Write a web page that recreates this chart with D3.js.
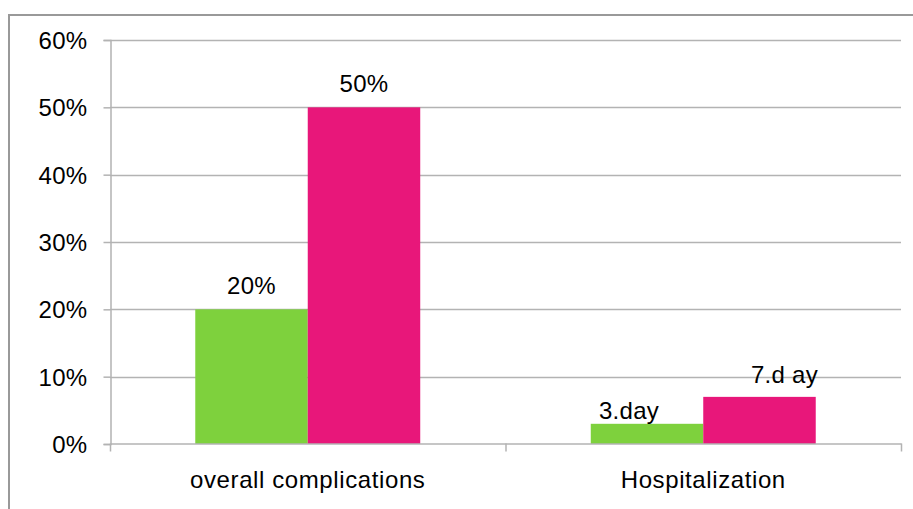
<!DOCTYPE html>
<html>
<head>
<meta charset="utf-8">
<script src="https://cdn.jsdelivr.net/npm/d3@7"></script>
<style>
  html, body { margin: 0; padding: 0; background: #fff; }
  svg { display: block; }
  text { font-family: "Liberation Sans", Arial, sans-serif; fill: #000; }
</style>
</head>
<body>
<svg id="chart" width="913" height="509"></svg>
<script>
// Chart data
const categories = ["overall complications", "Hospitalization"];
const seriesNames = ["before", "after"];
const seriesA = [20, 3];   // green bars (%)
const seriesB = [50, 7];   // pink bars (%)
const labelsA = ["20%", "3.day"];
const labelsB = ["50%", "7.d ay"];
const yTicks = [0, 10, 20, 30, 40, 50, 60];
const colors = ["#7ED13D", "#E8177A"];

const svg = d3.select("#chart");
const W = 913, H = 509;
const FONT = "Liberation Sans, Arial, sans-serif";

// Outer frame (top and left edges visible)
svg.append("line").attr("x1", 8).attr("x2", W).attr("y1", 15).attr("y2", 15)
  .attr("stroke", "#999").attr("stroke-width", 2);
svg.append("line").attr("x1", 9).attr("x2", 9).attr("y1", 15).attr("y2", H)
  .attr("stroke", "#999").attr("stroke-width", 2);

const x0 = d3.scaleBand().domain(categories).range([110, 901]).paddingInner(0).paddingOuter(0);
const x1 = d3.scaleBand().domain(seriesNames).range([0, x0.bandwidth()]).paddingInner(0).paddingOuter(0.758);
const y = d3.scaleLinear().domain([0, 60]).range([444, 40]);

// Horizontal gridlines
svg.append("g").selectAll("line").data(yTicks.filter(d => d > 0)).join("line")
  .attr("x1", 110).attr("x2", 901)
  .attr("y1", d => Math.round(y(d)) + 0.5).attr("y2", d => Math.round(y(d)) + 0.5)
  .attr("stroke", "#b3b3b3").attr("stroke-width", 1.5);

// Y axis
const yAxis = svg.append("g").attr("transform", "translate(110.5,0)")
  .call(d3.axisLeft(y).tickValues(yTicks).tickFormat(d => d + "%").tickSize(7).tickPadding(16));
yAxis.select(".domain").attr("stroke", "#b3b3b3").attr("stroke-width", 1.5);
yAxis.selectAll(".tick line").attr("stroke", "#b3b3b3").attr("stroke-width", 1.5);
yAxis.selectAll(".tick text").attr("font-size", 24).attr("letter-spacing", "0.3px")
  .attr("font-family", FONT).attr("fill", "#000").attr("dy", "0.35em");

// Bars
const groups = svg.append("g").selectAll("g").data(categories).join("g")
  .attr("transform", d => `translate(${x0(d)},0)`);
groups.each(function (c, i) {
  const g = d3.select(this);
  const vals = [seriesA[i], seriesB[i]];
  g.selectAll("rect").data(vals).join("rect")
    .attr("x", (v, j) => x1(seriesNames[j]))
    .attr("width", x1.bandwidth())
    .attr("y", v => y(v))
    .attr("height", v => y(0) - y(v))
    .attr("fill", (v, j) => colors[j]);
});

// X axis
const xAxis = svg.append("g").attr("transform", "translate(0,443.5)")
  .call(d3.axisBottom(x0).tickSize(0).tickPadding(27));
xAxis.select(".domain").attr("stroke", "#b3b3b3").attr("stroke-width", 1.5);
xAxis.selectAll(".tick text").attr("font-size", 24).attr("letter-spacing", "0.6px")
  .attr("font-family", FONT).attr("fill", "#000");
// category separators
const seps = [x0.range()[0]].concat(categories.map(c => x0(c) + x0.bandwidth()));
xAxis.append("g").selectAll("line").data(seps).join("line")
  .attr("x1", d => d + 0.5).attr("x2", d => d + 0.5).attr("y1", 0).attr("y2", 8)
  .attr("stroke", "#b3b3b3").attr("stroke-width", 1.5);

// Value labels
const labelOffsets = [[0, 0], [-18, 25]];      // dx per category for series A / B
const labelLift = [[15, 15], [5, 14]];
const lab = svg.append("g").attr("font-size", 24).attr("letter-spacing", "0.3px")
  .attr("text-anchor", "middle").attr("font-family", FONT);
categories.forEach((c, i) => {
  const vals = [seriesA[i], seriesB[i]];
  const texts = [labelsA[i], labelsB[i]];
  vals.forEach((v, j) => {
    lab.append("text")
      .attr("x", x0(c) + x1(seriesNames[j]) + x1.bandwidth() / 2 + labelOffsets[i][j])
      .attr("y", y(v) - labelLift[i][j])
      .text(texts[j]);
  });
});
</script>
</body>
</html>
